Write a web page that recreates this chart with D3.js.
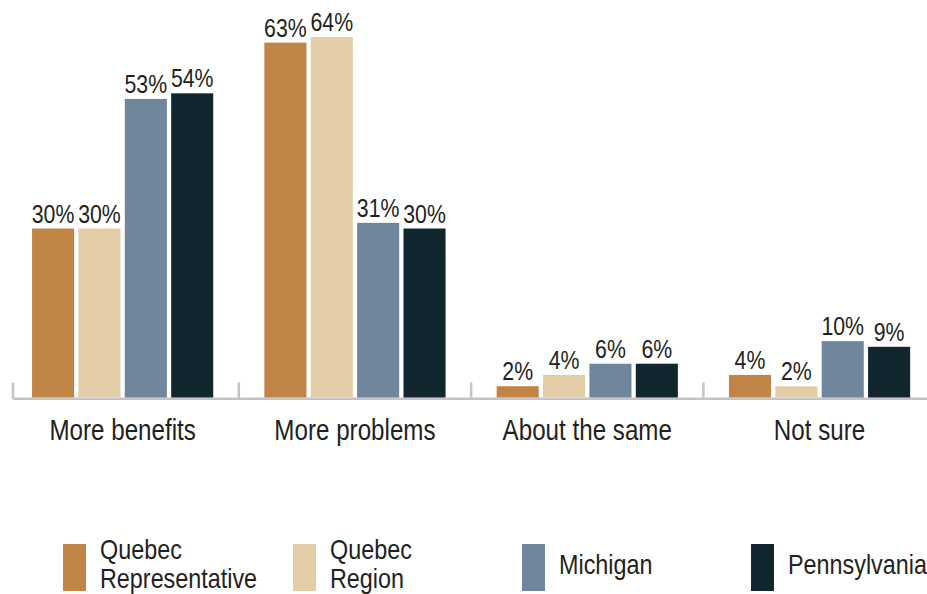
<!DOCTYPE html>
<html>
<head>
<meta charset="utf-8">
<script src="https://cdn.jsdelivr.net/npm/d3@7"></script>
<style>
  html, body { margin: 0; padding: 0; background: #fff; }
  svg { display: block; }
  text { font-family: "Liberation Sans", Arial, sans-serif; fill: #231f20; }
</style>
</head>
<body>
<svg id="chart"></svg>
<script>
const categories = ['More benefits', 'More problems', 'About the same', 'Not sure']
const series = ['Quebec Representative', 'Quebec Region', 'Michigan', 'Pennsylvania']
const legendLines = [['Quebec', 'Representative'], ['Quebec', 'Region'], ['Michigan'], ['Pennsylvania']]
const quebecRep = [30, 63, 2, 4]
const quebecRegion = [30, 64, 4, 2]
const michigan = [53, 31, 6, 10]
const pennsylvania = [54, 30, 6, 9]
const colors = ['#c08444', '#e2cda7', '#6f869c', '#12262f']

const values = [quebecRep, quebecRegion, michigan, pennsylvania]

const WIDTH = 927
const HEIGHT = 594
const BASE = 397.5
// condensed look: squeeze a regular sans horizontally
const NARROW = 0.82

const svg = d3.select('#chart')
    .attr('width', WIDTH)
    .attr('height', HEIGHT)

const x0 = d3.scaleBand()
    .domain(categories)
    .range([6.5, 935.7])
    .paddingInner(0.22)
    .paddingOuter(0.11)

const x1 = d3.scaleBand()
    .domain(series)
    .range([0, x0.bandwidth()])
    .paddingInner(0.093)
    .paddingOuter(0)

const y = d3.scaleLinear()
    .domain([0, 64])
    .range([BASE, 37])

const rows = []
categories.forEach((c, i) => {
    series.forEach((s, j) => {
        rows.push({ cat: c, ser: s, val: values[j][i], color: colors[j] })
    })
})

// axis baseline + separators
const gap = x0.step() * x0.paddingInner() / 2
svg.append('line')
    .attr('x1', 13).attr('x2', WIDTH)
    .attr('y1', BASE + 1.2).attr('y2', BASE + 1.2)
    .attr('stroke', '#c4c4c8')
    .attr('stroke-width', 2.5)

const tickXs = [13].concat(categories.slice(1).map(c => x0(c) - gap))
svg.selectAll('.tick')
    .data(tickXs)
    .enter()
    .append('line')
    .attr('x1', d => d).attr('x2', d => d)
    .attr('y1', BASE - 15).attr('y2', BASE + 1)
    .attr('stroke', '#c4c4c8')
    .attr('stroke-width', 2.5)

const bars = svg.append('g')
bars.selectAll('.bar')
    .data(rows)
    .enter()
    .append('rect')
    .classed('bar', true)
    .attr('x', d => x0(d.cat) + x1(d.ser))
    .attr('y', d => y(d.val))
    .attr('width', x1.bandwidth())
    .attr('height', d => BASE - y(d.val))
    .attr('fill', d => d.color)

bars.selectAll('.val')
    .data(rows)
    .enter()
    .append('text')
    .classed('val', true)
    .attr('transform', d => `translate(${x0(d.cat) + x1(d.ser) + x1.bandwidth() / 2},${y(d.val) - 6}) scale(${NARROW},1)`)
    .attr('text-anchor', 'middle')
    .attr('font-size', 26)
    .text(d => d.val + '%')

svg.selectAll('.cat')
    .data(categories)
    .enter()
    .append('text')
    .classed('cat', true)
    .attr('transform', d => `translate(${x0(d) + x0.bandwidth() / 2},440) scale(${NARROW},1)`)
    .attr('text-anchor', 'middle')
    .attr('font-size', 29.5)
    .text(d => d)

// legend
const legendX = [63, 293, 522, 751]
const legend = svg.selectAll('.legend')
    .data(series)
    .enter()
    .append('g')
    .classed('legend', true)
    .attr('transform', (d, i) => `translate(${legendX[i]}, 544)`)

legend.append('rect')
    .attr('width', 23)
    .attr('height', 47)
    .attr('fill', (d, i) => colors[i])

legend.append('text')
    .attr('font-size', 28.5)
    .attr('transform', `translate(37,0) scale(${NARROW},1)`)
    .each(function (d, i) {
        const lines = legendLines[i]
        const t = d3.select(this)
        lines.forEach((ln, k) => {
            t.append('tspan')
                .attr('x', 0)
                .attr('y', lines.length > 1 ? 14.5 + k * 30 : 30)
                .text(ln)
        })
    })
</script>
</body>
</html>
